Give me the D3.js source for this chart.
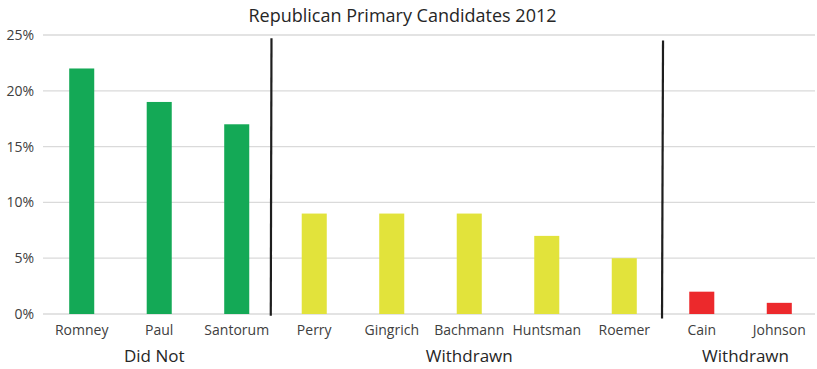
<!DOCTYPE html>
<html>
<head>
<meta charset="utf-8">
<script src="https://cdn.jsdelivr.net/npm/d3@7"></script>
<style>
  html, body { margin: 0; padding: 0; background: #fff; }
  svg { display: block; }
  text { font-family: "Open Sans", sans-serif; }
</style>
</head>
<body>
<svg id="chart" width="817" height="369"></svg>
<script>
// Poll support for the 2012 Republican primary field
const candidates = ["Romney", "Paul", "Santorum", "Perry", "Gingrich", "Bachmann", "Huntsman", "Roemer", "Cain", "Johnson"];
const support = [22, 19, 17, 9, 9, 9, 7, 5, 2, 1];
const status = ["active", "active", "active", "out", "out", "out", "out", "out", "late", "late"];

const groupNames = ["Did Not", "Withdrawn", "Withdrawn"];
const groupFirst = ["Romney", "Perry", "Cain"];
const groupLast = ["Santorum", "Roemer", "Johnson"];

// Separators are drawn after these candidates
const dividerAfter = ["Santorum", "Roemer"];

const yTicks = [0, 5, 10, 15, 20, 25];
const chartTitle = "Republican Primary Candidates 2012";

const colorOf = { active: "#14a956", out: "#e2e33b", late: "#ec292c" };

const width = 817, height = 369;
const margin = { top: 35, right: 0, bottom: 55, left: 43 };

const svg = d3.select("#chart");

const x = d3.scaleBand()
  .domain(candidates)
  .range([margin.left, width - margin.right + 1])
  .paddingInner(0.677)
  .paddingOuter(0.338);

const y = d3.scaleLinear()
  .domain([0, 25])
  .range([height - margin.bottom, margin.top]);

// Title
svg.append("text")
  .attr("x", 402.5)
  .attr("y", 21.5)
  .attr("text-anchor", "middle")
  .attr("font-size", 18)
  .attr("fill", "#262626")
  .text(chartTitle);

// Horizontal gridlines
svg.append("g")
  .selectAll("line")
  .data(yTicks)
  .join("line")
  .attr("x1", margin.left)
  .attr("x2", width - 2)
  .attr("y1", d => y(d))
  .attr("y2", d => y(d))
  .attr("stroke", "#dadada")
  .attr("stroke-width", 1.3);

// Y axis labels
const yAxis = d3.axisLeft(y)
  .tickValues(yTicks)
  .tickFormat(d => d + "%")
  .tickSize(0)
  .tickPadding(9);

svg.append("g")
  .attr("transform", `translate(${margin.left},0)`)
  .call(yAxis)
  .call(g => g.select(".domain").remove())
  .call(g => g.selectAll("text")
    .attr("font-family", "Open Sans, sans-serif")
    .attr("font-size", 14)
    .attr("fill", "#404040"));

// Bars
svg.append("g")
  .selectAll("rect")
  .data(candidates)
  .join("rect")
  .attr("x", d => x(d))
  .attr("width", x.bandwidth())
  .attr("y", (d, i) => y(support[i]))
  .attr("height", (d, i) => y(0) - y(support[i]))
  .attr("fill", (d, i) => colorOf[status[i]]);

// X axis candidate labels
const xAxis = d3.axisBottom(x).tickSize(0).tickPadding(11);
svg.append("g")
  .attr("transform", `translate(0,${y(0)})`)
  .call(xAxis)
  .call(g => g.select(".domain").remove())
  .call(g => g.selectAll("text")
    .attr("font-family", "Open Sans, sans-serif")
    .attr("font-size", 14)
    .attr("fill", "#404040"));

// Group labels, centred under their candidates with a small optical nudge
const nudge = [-5, 0, 5];
svg.append("g")
  .selectAll("text")
  .data(groupNames)
  .join("text")
  .attr("x", (d, i) => (x(groupFirst[i]) + x(groupLast[i]) + x.bandwidth()) / 2 + nudge[i])
  .attr("y", y(0) + 48)
  .attr("text-anchor", "middle")
  .attr("font-size", 17)
  .attr("fill", "#262626")
  .text(d => d);

// Vertical separators between groups
const step = x.step();
svg.append("g")
  .selectAll("line")
  .data(dividerAfter)
  .join("line")
  .attr("x1", (d, i) => x(d) + x.bandwidth() + (step - x.bandwidth()) / 2 - (i === 0 ? 4 : 0))
  .attr("x2", (d, i) => x(d) + x.bandwidth() + (step - x.bandwidth()) / 2 - (i === 0 ? 4.7 : 1))
  .attr("y1", (d, i) => y(i === 0 ? 24.7 : 24.5))
  .attr("y2", (d, i) => y(i === 0 ? -0.15 : -0.4))
  .attr("stroke", "#1e1e1e")
  .attr("stroke-width", 2.2);
</script>
</body>
</html>
